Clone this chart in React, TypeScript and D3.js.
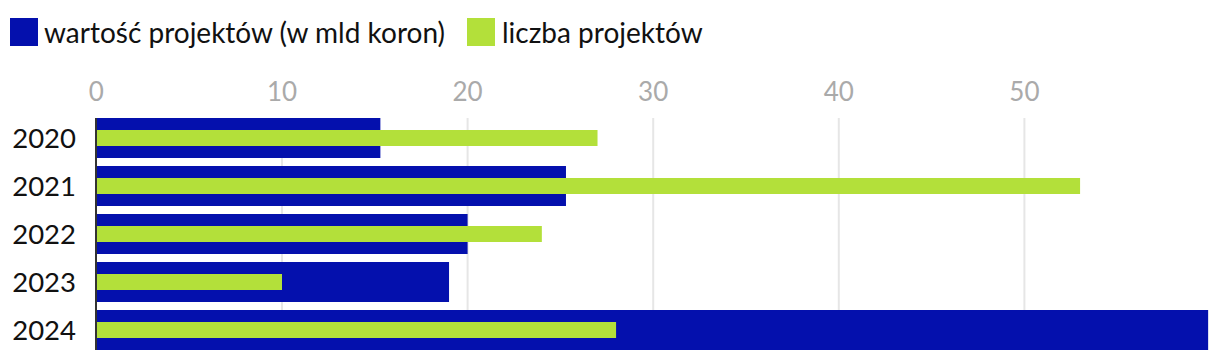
import React from "react";
import * as d3 from "d3";

const years = ["2020", "2021", "2022", "2023", "2024"];
const valueSeries = [15.3, 25.3, 20.0, 19.0, 59.9]; // wartość projektów (w mld koron)
const countSeries = [27, 53, 24, 10, 28]; // liczba projektów
const ticks = [0, 10, 20, 30, 40, 50];
const legendLabels = ["wartość projektów (w mld koron)", "liczba projektów"];

const BLUE = "#0410ad";
const GREEN = "#b3e03a";

export default function App() {
  const width = 1220;
  const height = 362;
  const font = "Lato, 'Open Sans', sans-serif";

  const x = d3.scaleLinear().domain([0, 60]).range([96.4, 1210]);
  const y = d3.scaleBand().domain(years).range([118, 350]).paddingInner(8 / 48);
  const bw = y.bandwidth();
  const top = 118;
  const bottom = 350;

  return (
    <svg
      width={width}
      height={height}
      style={{ position: "absolute", left: 0, top: 0, fontFamily: font }}
    >
      {/* legend */}
      <rect x={10} y={18} width={28} height={28} fill={BLUE} />
      <text x={44} y={43} fontSize={28} fill="#111">
        {legendLabels[0]}
      </text>
      <rect x={467} y={18} width={28} height={28} fill={GREEN} />
      <text x={502} y={43} fontSize={28} fill="#111">
        {legendLabels[1]}
      </text>

      {/* grid + tick labels */}
      {ticks.map((t) => (
        <g key={t}>
          {t > 0 && (
            <line x1={x(t)} x2={x(t)} y1={top} y2={bottom} stroke="#e6e6e6" strokeWidth={2} />
          )}
          <text x={x(t)} y={101} textAnchor="middle" fontSize={26} fill="#aaaaaa">
            {t}
          </text>
        </g>
      ))}

      {/* bars */}
      {years.map((yr, i) => (
        <g key={yr}>
          <rect x={x(0)} y={y(yr)} width={x(valueSeries[i]) - x(0)} height={bw} fill={BLUE} />
          <rect
            x={x(0)}
            y={(y(yr) as number) + bw * 0.3}
            width={x(countSeries[i]) - x(0)}
            height={bw * 0.4}
            fill={GREEN}
          />
          <text
            x={76}
            y={(y(yr) as number) + bw / 2}
            dy="0.36em"
            textAnchor="end"
            fontSize={27.5}
            fill="#111"
          >
            {yr}
          </text>
        </g>
      ))}

      {/* baseline */}
      <line x1={96} x2={96} y1={top} y2={bottom} stroke="#333" strokeWidth={2} />
    </svg>
  );
}
